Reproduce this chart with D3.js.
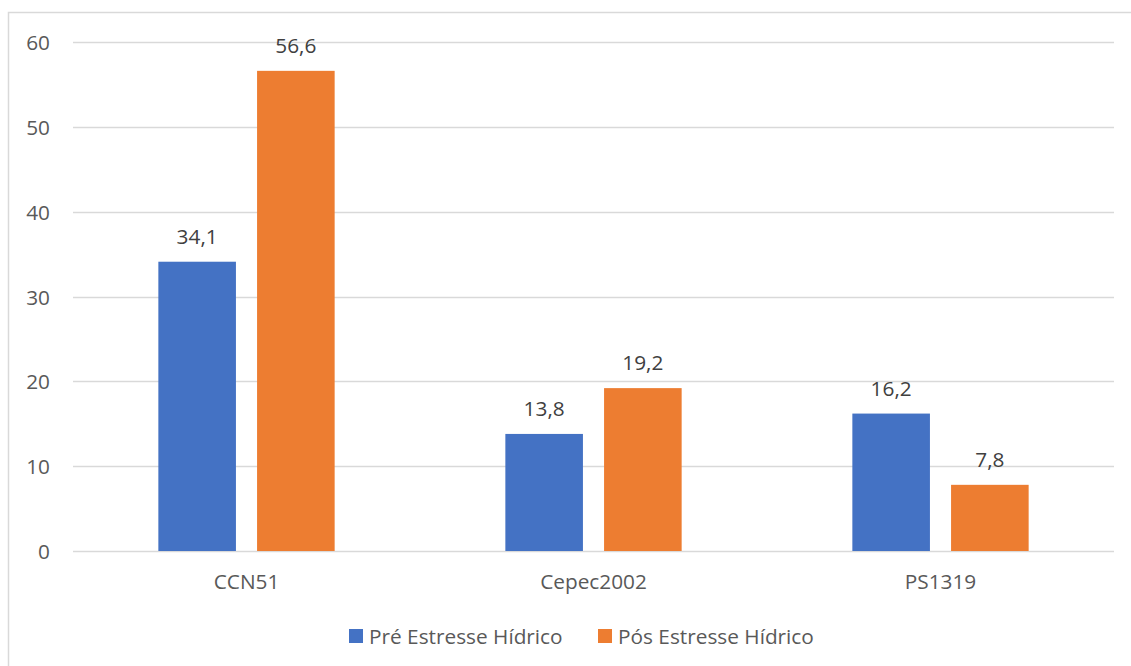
<!DOCTYPE html>
<html>
<head>
<meta charset="utf-8">
<script src="https://cdn.jsdelivr.net/npm/d3@7"></script>
<style>
  html, body { margin: 0; padding: 0; background: #fff; }
  svg { display: block; font-family: "Open Sans", "Noto Sans", sans-serif; }
</style>
</head>
<body>
<svg id="chart" width="1131" height="666"></svg>
<script>
const categories = ["CCN51", "Cepec2002", "PS1319"];
const seriesNames = ["Pré Estresse Hídrico", "Pós Estresse Hídrico"];
const preValues = [34.1, 13.8, 16.2];
const posValues = [56.6, 19.2, 7.8];
const yTicks = [0, 10, 20, 30, 40, 50, 60];
const colors = ["#4472C4", "#ED7D31"];

const seriesValues = [preValues, posValues];
const data = categories.map((c, i) => ({
  category: c,
  values: seriesNames.map((s, j) => ({ series: s, value: seriesValues[j][i], idx: j }))
}));

const FS = 20.8;
const svg = d3.select("#chart");
const plot = { left: 73, right: 1114, top: 42, bottom: 551 };

// chart border (runs off right/bottom)
svg.append("rect")
  .attr("x", 8.5).attr("y", 12.5)
  .attr("width", 1140).attr("height", 700)
  .attr("fill", "none").attr("stroke", "#D9D9D9").attr("stroke-width", 1.5);

const y = d3.scaleLinear().domain([0, 60]).range([plot.bottom, plot.top]);
const x0 = d3.scaleBand().domain(categories).range([plot.left, plot.right]).padding(0);
const groupW = 176.3;
const off = (x0.bandwidth() - groupW) / 2;
const x1 = d3.scaleBand().domain(seriesNames).range([off, off + groupW]).paddingInner(0.214).paddingOuter(0);

// gridlines
svg.append("g").selectAll("line").data(yTicks).join("line")
  .attr("x1", plot.left).attr("x2", plot.right)
  .attr("y1", d => Math.round(y(d)) + 0.5).attr("y2", d => Math.round(y(d)) + 0.5)
  .attr("stroke", "#D9D9D9").attr("stroke-width", 1.5);

// y axis labels
const yAxis = d3.axisLeft(y).tickValues(yTicks).tickSize(0).tickPadding(0);
const gy = svg.append("g").attr("transform", `translate(50,0)`).call(yAxis);
gy.select(".domain").remove();
gy.selectAll("text")
  .attr("font-size", FS).attr("fill", "#595959")
  .attr("font-family", '"Open Sans", sans-serif')
  .attr("dy", "0.36em");

// bars
const groups = svg.append("g").selectAll("g").data(data).join("g")
  .attr("transform", d => `translate(${x0(d.category)},0)`);

groups.selectAll("rect").data(d => d.values).join("rect")
  .attr("x", d => x1(d.series))
  .attr("width", x1.bandwidth())
  .attr("y", d => y(d.value))
  .attr("height", d => y(0) - y(d.value))
  .attr("fill", d => colors[d.idx]);

groups.selectAll("text").data(d => d.values).join("text")
  .attr("x", d => x1(d.series) + x1.bandwidth() / 2)
  .attr("y", d => y(d.value) - 18)
  .attr("text-anchor", "middle")
  .attr("font-size", FS).attr("fill", "#404040")
  .text(d => d.value.toFixed(1).replace(".", ","));

// x axis labels
const xAxis = d3.axisBottom(x0).tickSize(0).tickPadding(0);
const gx = svg.append("g").attr("transform", `translate(0,574)`).call(xAxis);
gx.select(".domain").remove();
gx.selectAll("text")
  .attr("font-size", FS).attr("fill", "#595959")
  .attr("font-family", '"Open Sans", sans-serif')
  .attr("dy", "0.71em");

// legend
const legendX = [349, 598];
const leg = svg.append("g").selectAll("g").data(seriesNames).join("g")
  .attr("transform", (d, i) => `translate(${legendX[i]},629)`);
leg.append("rect").attr("width", 14).attr("height", 14).attr("fill", (d, i) => colors[i]);
leg.append("text").attr("x", 20).attr("y", 7).attr("dy", "0.36em")
  .attr("font-size", FS).attr("fill", "#595959").text(d => d);
</script>
</body>
</html>
